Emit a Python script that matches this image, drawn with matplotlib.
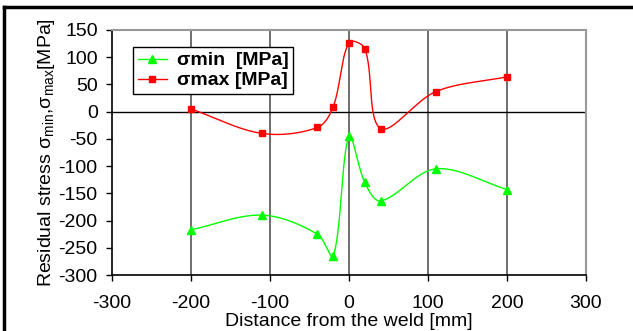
import numpy as np
import matplotlib
matplotlib.use("Agg")
import matplotlib.pyplot as plt
from matplotlib.lines import Line2D

plt.rcParams['font.family'] = ['Liberation Sans', 'DejaVu Sans']
plt.rcParams['mathtext.fontset'] = 'custom'
plt.rcParams['mathtext.rm'] = 'Liberation Sans'
plt.rcParams['axes.unicode_minus'] = False

distance = [-200, -110, -40, -20, 0, 20, 40, 110, 200]
sigma_min = [-217, -190, -225, -266, -45, -130, -164, -105, -143]
sigma_max = [5, -40, -29, 9, 127, 116, -31, 37, 64]

# axes pixel geometry (used only for screen-space smoothing, like a spreadsheet)
AX_L, AX_R, AX_T, AX_B = 112, 586, 30, 275
XMIN, XMAX, YMIN, YMAX = -300, 300, -300, 150
SX = (AX_R - AX_L) / (XMAX - XMIN)
SY = (AX_B - AX_T) / (YMAX - YMIN)


def smooth(xs, ys, n=40):
    P = np.column_stack([np.asarray(xs, float) * SX, np.asarray(ys, float) * SY])
    m = len(P)
    ext = np.vstack([P[0], P, P[-1]])
    ox, oy = [], []
    t = np.linspace(0, 1, n)
    d = np.linalg.norm(np.diff(ext, axis=0), axis=1)
    for i in range(m - 1):
        k = i + 1
        p0, p3 = ext[k], ext[k + 1]
        T0 = ext[k + 1] - ext[k - 1]
        T1 = ext[k + 2] - ext[k]
        dp, dn = d[k - 1], d[k]
        f0 = dn / (dp + dn) / 3 if (dp + dn) > 0 else 0
        dp1, dn1 = d[k], d[k + 1]
        f1 = dp1 / (dp1 + dn1) / 3 if (dp1 + dn1) > 0 else 0
        p1 = p0 + T0 * f0
        p2 = p3 - T1 * f1
        b = ((1 - t) ** 3)[:, None] * p0 + (3 * (1 - t) ** 2 * t)[:, None] * p1 \
            + (3 * (1 - t) * t ** 2)[:, None] * p2 + (t ** 3)[:, None] * p3
        ox.extend(b[:, 0] / SX)
        oy.extend(b[:, 1] / SY)
    return np.array(ox), np.array(oy)


fig = plt.figure(figsize=(6.33, 3.31), dpi=100)
ax = fig.add_axes([AX_L / 633, 1 - AX_B / 331, (AX_R - AX_L) / 633, (AX_B - AX_T) / 331])

ax.set_xlim(XMIN, XMAX)
ax.set_ylim(YMIN, YMAX)
ax.set_xticks(range(-300, 301, 100))
ax.set_yticks(range(-300, 151, 50))
ax.tick_params(axis='both', labelsize=14, length=4.3, direction='out', width=1)
ax.tick_params(axis='y', pad=6)
ax.tick_params(axis='x', pad=10)

for xv in range(-200, 301, 100):
    ax.axvline(xv, color='#555555', lw=1.2, zorder=1)
ax.axhline(0, color='black', lw=1, zorder=1)

for s in ['top', 'right']:
    ax.spines[s].set_color('#999999')
    ax.spines[s].set_linewidth(1.5)
for s in ['left', 'bottom']:
    ax.spines[s].set_color('black')
    ax.spines[s].set_linewidth(1.2)

gx, gy = smooth(distance, sigma_min)
rx, ry = smooth(distance, sigma_max)
ax.plot(gx, gy, color='#00ff00', lw=1, zorder=3)
ax.plot(rx, ry, color='#ff0000', lw=1, zorder=3)
ax.plot(distance, sigma_min, linestyle='none', marker='^', color='#00ff00', ms=6, zorder=4)
ax.plot(distance, sigma_max, linestyle='none', marker='s', color='#ff0000', ms=5, zorder=4)

handles = [Line2D([], [], color='#00ff00', marker='^', ms=6, lw=1),
           Line2D([], [], color='#ff0000', marker='s', ms=5, lw=1)]
leg = ax.legend(handles, ['σmin  [MPa]', 'σmax [MPa]'],
                loc='upper left', bbox_to_anchor=((133 - AX_L) / (AX_R - AX_L), 1 - (47 - AX_T) / (AX_B - AX_T)),
                prop={'weight': 'bold', 'size': 14}, frameon=True, fancybox=False,
                edgecolor='black', framealpha=1, borderpad=0.25, labelspacing=0.12,
                handlelength=1.5, handletextpad=0.5, borderaxespad=0)
leg.get_frame().set_linewidth(1)

ax.set_xlabel('Distance from the weld [mm]', fontsize=14, labelpad=1)
ax.set_ylabel(r'Residual stress σ$_{\rm min}$,σ$_{\rm max}$[MPa]', fontsize=14, labelpad=1)

fig.add_artist(Line2D([4 / 633, 1.0], [1 - 7 / 331, 1 - 7 / 331], color='black', lw=2.5,
                      transform=fig.transFigure))
fig.add_artist(Line2D([4 / 633, 4 / 633], [0.0, 1 - 7 / 331], color='black', lw=2.5,
                      transform=fig.transFigure))

fig.savefig('out.png', dpi=100)
